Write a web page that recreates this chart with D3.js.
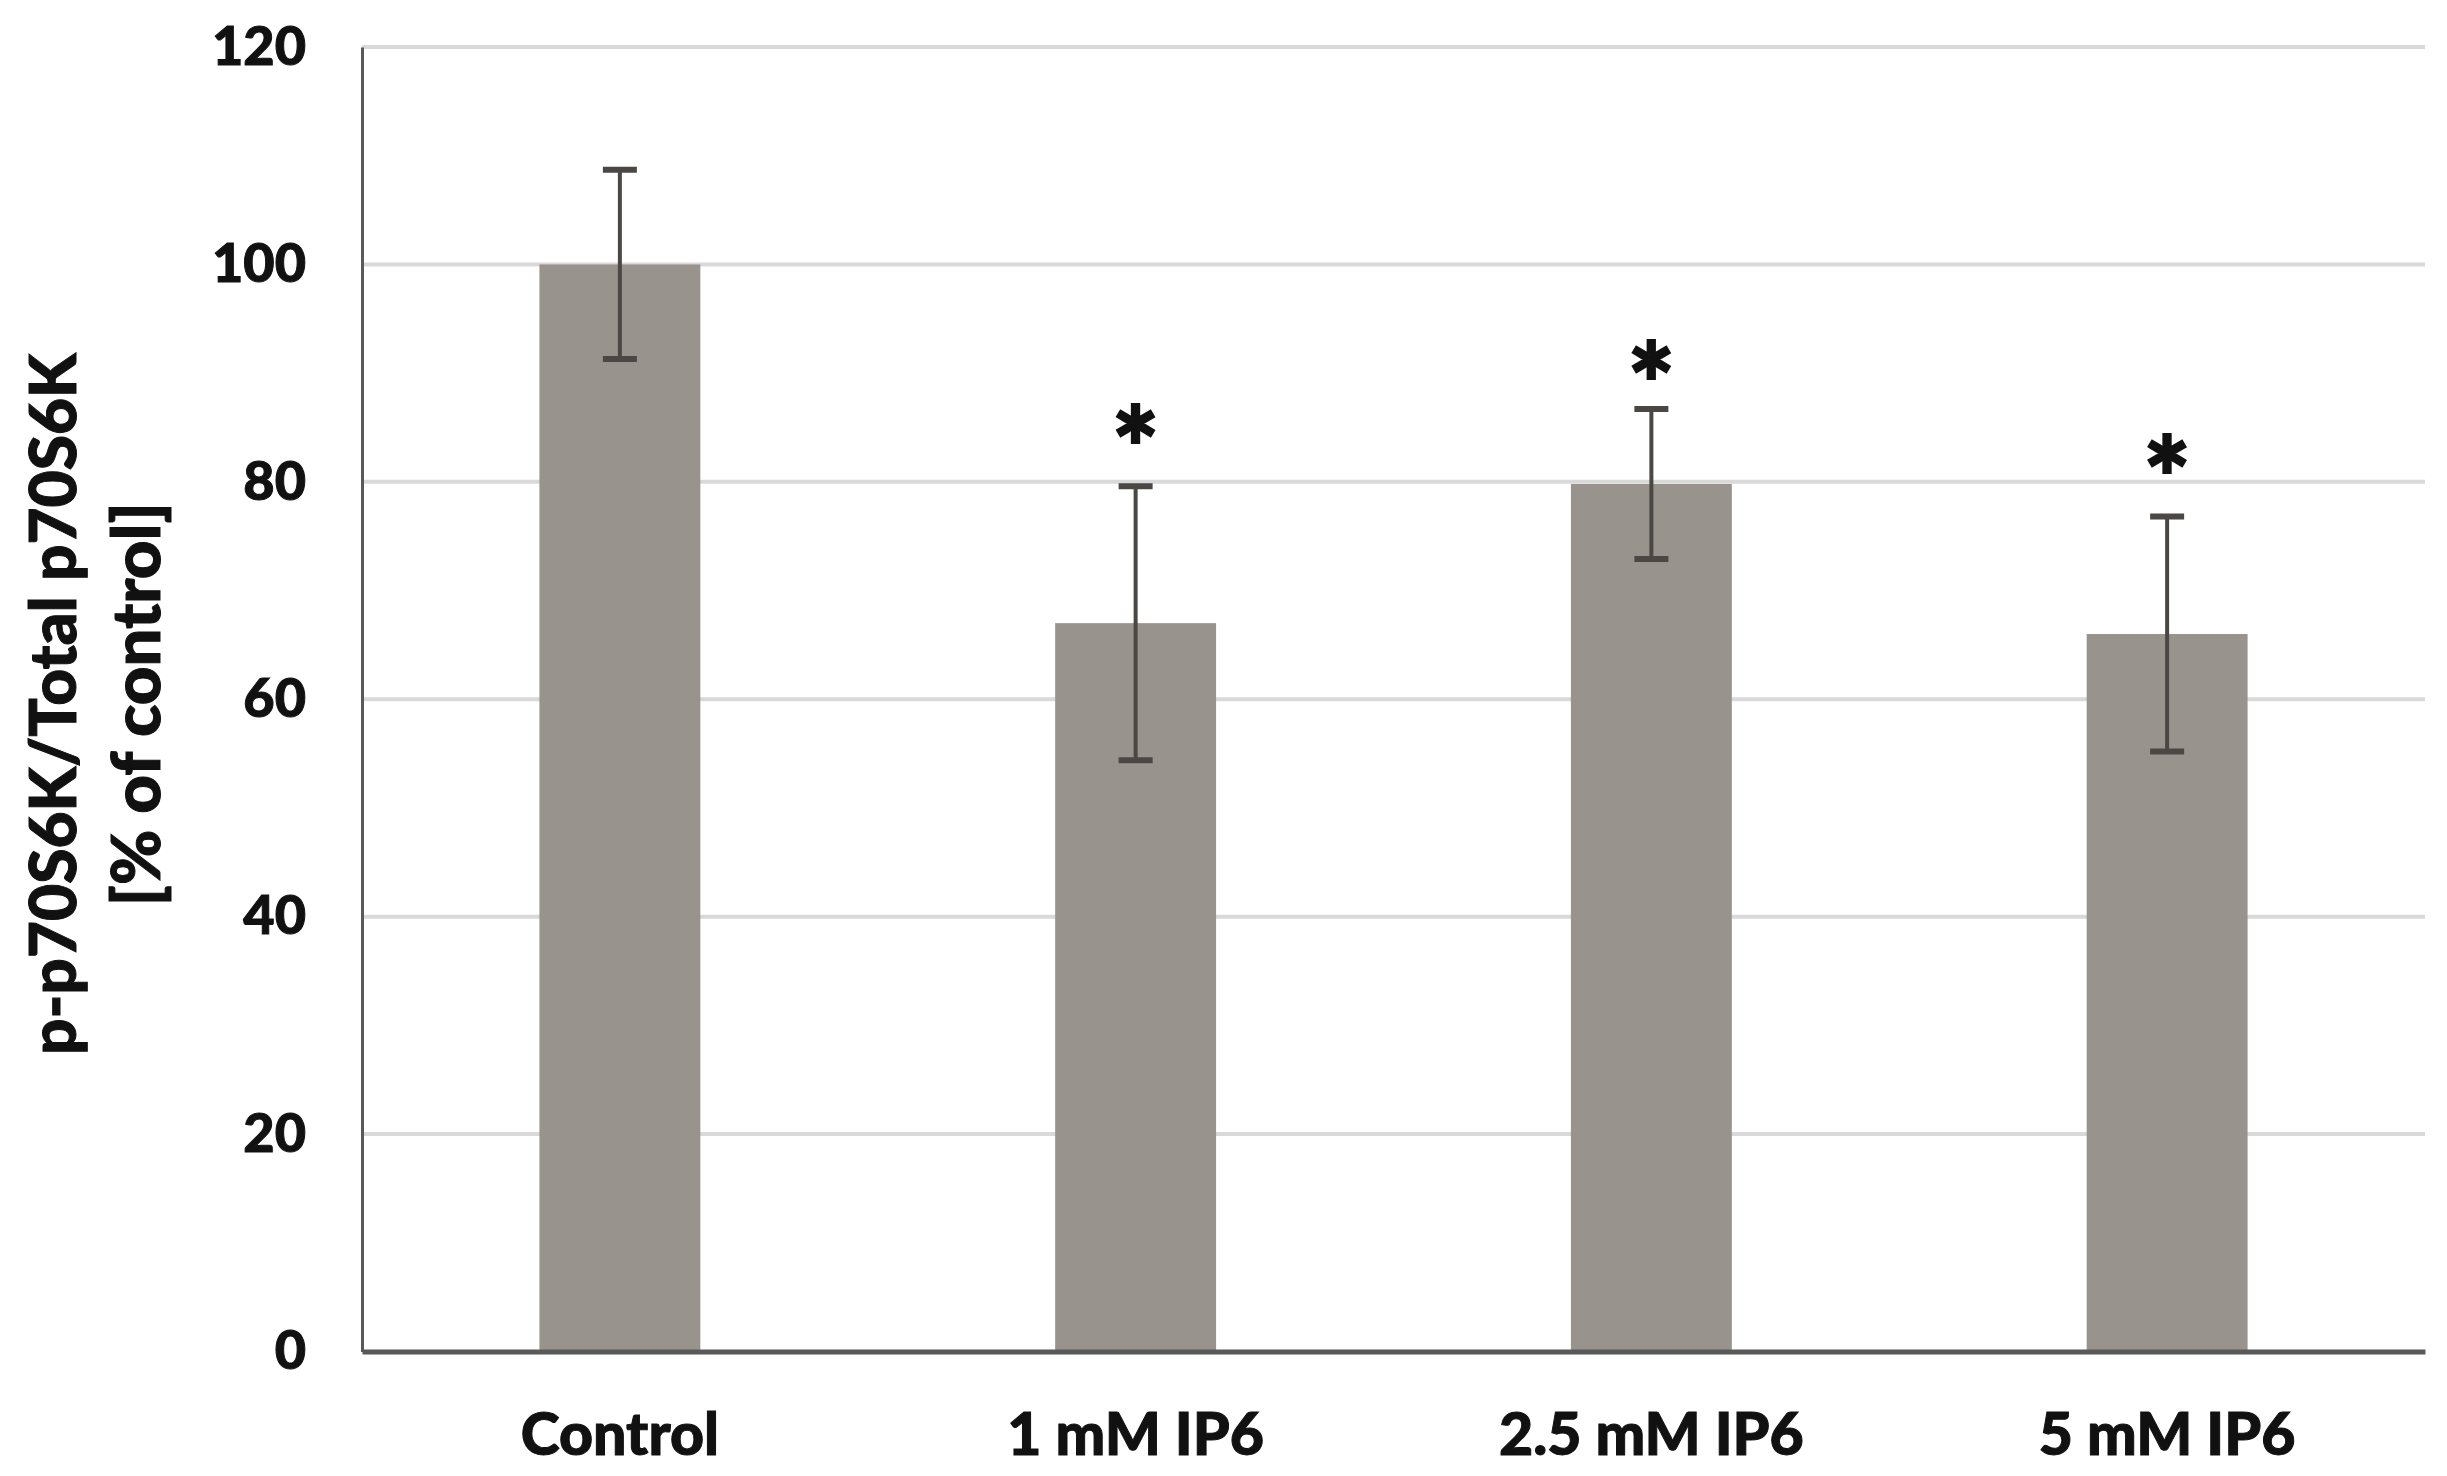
<!DOCTYPE html>
<html>
<head>
<meta charset="utf-8">
<script src="https://cdn.jsdelivr.net/npm/d3@7"></script>
<style>
  html, body { margin: 0; padding: 0; background: #ffffff; }
  svg { display: block; }
</style>
</head>
<body>
<svg id="chart" width="2447" height="1476"></svg>
<script>
// ---- data ----
const categories = ["Control", "1 mM IP6", "2.5 mM IP6", "5 mM IP6"];
const values = [100, 67.0, 79.8, 66.0];
const errors = [8.7, 12.6, 6.9, 10.8];
const significant = [false, true, true, true];
const starLevels = [null, 85.4, 91.3, 82.7];
const yTicks = [0, 20, 40, 60, 80, 100, 120];
const yTitleLines = ["p-p70S6K/Total p70S6K", "[% of control]"];

// ---- layout ----
const svg = d3.select("#chart");
const plotLeft = 362, plotRight = 2425, plotTop = 47, plotBottom = 1351.5;
const font = "Lato, 'Open Sans', sans-serif";
const ink = "#111111";

const x = d3.scaleBand().domain(categories).range([plotLeft, plotRight])
  .paddingInner(0.688).paddingOuter(0.344);
const y = d3.scaleLinear().domain([0, 120]).range([plotBottom, plotTop]);

// gridlines
svg.append("g").selectAll("line").data(yTicks.filter(d => d > 0)).join("line")
  .attr("x1", plotLeft).attr("x2", plotRight)
  .attr("y1", d => y(d)).attr("y2", d => y(d))
  .attr("stroke", "#d9d9d9").attr("stroke-width", 4);

// bars
svg.append("g").selectAll("rect").data(categories).join("rect")
  .attr("x", d => x(d)).attr("width", x.bandwidth())
  .attr("y", (d, i) => y(values[i]))
  .attr("height", (d, i) => y(0) - y(values[i]))
  .attr("fill", "#99938d");

// error bars
const eb = svg.append("g").attr("stroke", "#4b4744");
const capW = 34;
categories.forEach((c, i) => {
  const cx = x(c) + x.bandwidth() / 2;
  const hi = y(values[i] + errors[i]), lo = y(values[i] - errors[i]);
  eb.append("line").attr("x1", cx).attr("x2", cx).attr("y1", hi).attr("y2", lo).attr("stroke-width", 4);
  eb.append("line").attr("x1", cx - capW / 2).attr("x2", cx + capW / 2).attr("y1", hi).attr("y2", hi).attr("stroke-width", 6);
  eb.append("line").attr("x1", cx - capW / 2).attr("x2", cx + capW / 2).attr("y1", lo).attr("y2", lo).attr("stroke-width", 6);
});

// significance stars
svg.append("g").selectAll("text").data(categories.filter((c, i) => significant[i])).join("text")
  .attr("x", d => x(d) + x.bandwidth() / 2)
  .attr("y", d => y(starLevels[categories.indexOf(d)]))
  .attr("dy", "0.6em")
  .attr("text-anchor", "middle")
  .attr("font-family", font).attr("font-weight", 900).attr("font-size", 112)
  .attr("fill", ink).attr("stroke", ink).attr("stroke-width", 2)
  .text("*");

// y axis
const yAxis = svg.append("g").attr("transform", `translate(${plotLeft},0)`)
  .call(d3.axisLeft(y).tickValues(yTicks).tickSize(0).tickPadding(56));
yAxis.select(".domain").attr("stroke", "#595959").attr("stroke-width", 3);
yAxis.selectAll("text").attr("font-family", font).attr("font-weight", 900)
  .attr("font-size", 54).attr("fill", ink).attr("stroke", ink).attr("stroke-width", 1);

// x axis
const xAxis = svg.append("g").attr("transform", `translate(0,${plotBottom})`)
  .call(d3.axisBottom(x).tickSize(0).tickPadding(62));
xAxis.select(".domain").attr("stroke", "#595959").attr("stroke-width", 5);
xAxis.selectAll("text").attr("font-family", font).attr("font-weight", 900)
  .attr("font-size", 59).attr("fill", ink).attr("stroke", ink).attr("stroke-width", 1);

// y title
const yt = svg.append("text")
  .attr("transform", `translate(0,${(plotTop + plotBottom) / 2 + 5}) rotate(-90)`)
  .attr("text-anchor", "middle")
  .attr("font-family", font).attr("font-weight", 900)
  .attr("fill", ink).attr("stroke", ink).attr("stroke-width", 1);
yt.selectAll("tspan").data(yTitleLines).join("tspan")
  .attr("x", 0).attr("y", (d, i) => 76 + i * 84)
  .attr("font-size", (d, i) => i === 0 ? 64 : 67)
  .text(d => d);
</script>
</body>
</html>
